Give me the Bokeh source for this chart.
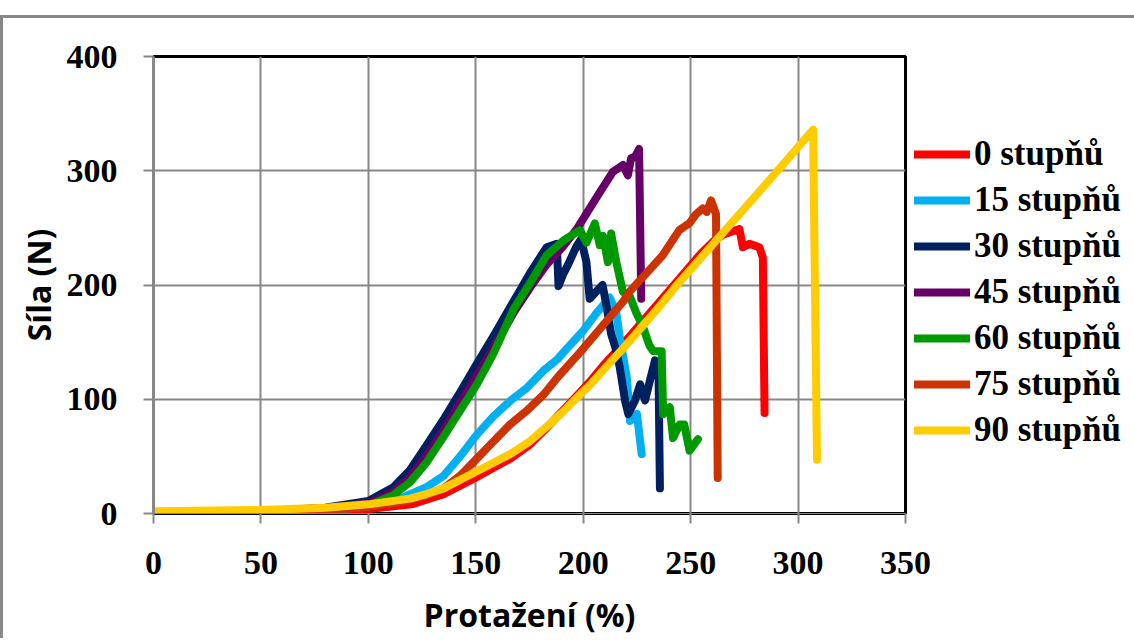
from bokeh.plotting import figure
from bokeh.models import Legend, LegendItem, FixedTicker
from bokeh.embed import file_html
from bokeh.resources import INLINE

labels = ["0 stupňů", "15 stupňů", "30 stupňů", "45 stupňů", "60 stupňů", "75 stupňů", "90 stupňů"]
colors = ["#FF0000", "#00B0F0", "#002060", "#660066", "#009900", "#CC3300", "#FFCC00"]

x_0 = [0, 50, 80, 100, 120, 135, 150.5, 166, 175, 183, 190, 198.5, 203.4, 210, 218.8, 234, 245, 255, 260.5, 265,
       268, 272.7, 274.3, 277.4, 282, 283.6, 284.4]
y_0 = [0.5, 1, 2, 4, 8, 17, 32, 48, 60, 75, 89, 106, 116, 131, 149, 182, 206, 228, 238, 244,
       246, 249, 233, 236, 233, 224, 88]

x_15 = [0, 50, 80, 100, 114.7, 127, 135, 142.7, 150.5, 158.2, 166, 173.8, 181.5, 188, 190.8, 200, 206, 212.3,
        215.4, 217, 220.3, 221.8, 225, 227.2]
y_15 = [0, 1, 3, 6, 13, 23, 33, 50, 69, 85, 98.5, 110, 125, 135, 141, 160, 175, 189,
        176, 154, 119, 81, 87, 52]

x_30 = [0, 50, 80, 100, 111.6, 119.4, 127.2, 134.9, 142.7, 150.5, 158.2, 167.7, 175.4, 183, 187.7, 188.5, 190.8,
        193, 196.9, 199, 201.5, 203, 206, 209, 210.8, 213, 215, 217, 219.5, 221, 224, 226.5, 228.8, 231, 233.4,
        235, 235.7]
y_30 = [0, 2, 5, 11, 23, 38, 60, 82, 106, 131, 155, 186, 211, 233, 236, 199, 210,
        218, 234, 240, 220, 188, 194, 200, 182, 157, 145, 128, 98.5, 87, 98.5, 113, 99, 116, 134,
        132, 22]

x_45 = [0, 50, 80, 100, 111.6, 119.4, 127.2, 134.9, 142.7, 150.5, 158.2, 167.7, 175.4, 183, 190.8, 197, 206,
        213.8, 218.5, 220.8, 222.3, 224, 226, 227]
y_45 = [0, 2, 4.5, 9, 19, 32, 51, 73, 97, 121, 145, 176, 198, 218, 234, 249, 276,
        299, 305, 296, 311, 312, 319, 188]

x_60 = [0, 50, 80, 100, 111.6, 119.4, 127.2, 134.9, 142.7, 150.5, 158.2, 167.7, 175.4, 183, 190.8, 198.5, 201.5,
        205.4, 207.7, 209.2, 211.5, 213, 215.4, 218.5, 221.5, 224.6, 227.7, 230.8, 232.6, 236.5, 237.2, 240.3,
        241.8, 244.9, 247, 249.5, 253.4]
y_60 = [0, 1.5, 3.5, 7, 16, 27.5, 45, 67, 90, 113, 140, 179, 202, 226, 239, 248, 237,
        254, 235, 243, 220, 245, 220, 194, 191, 176, 164, 147, 142, 142, 87, 93,
        66, 78, 78, 55, 65]

x_75 = [0, 50, 80, 100, 115, 127, 135, 142.7, 150.5, 158.2, 166, 173.8, 181.5, 188, 198.5, 218.8, 221.5, 237,
        244.7, 249.4, 252.5, 255.6, 257.5, 259.5, 261.8, 262.6]
y_75 = [0, 1, 3, 6, 10, 16, 22, 33, 48, 63, 78, 90, 104, 119, 141, 186, 194, 226,
        248, 254, 262, 267, 264, 274, 262, 31]

x_90 = [0, 20, 50, 80, 100, 119.4, 127, 135, 150.5, 166, 175, 183, 190, 198.5, 203.4, 210, 218.8, 234, 245, 260.5,
        276, 291.4, 299.2, 307, 308.8]
y_90 = [2, 2.5, 3, 5, 8, 13, 17, 22, 37, 52, 63, 76, 88, 104, 113, 127, 145, 178, 203, 236,
        269, 302, 319, 336, 47]

x_ticks = [0, 50, 100, 150, 200, 250, 300, 350]
y_ticks = [0, 100, 200, 300, 400]

series = [(x_0, y_0), (x_15, y_15), (x_30, y_30), (x_45, y_45), (x_60, y_60), (x_75, y_75), (x_90, y_90)]

p = figure(frame_width=752, frame_height=457, x_range=(0, 350), y_range=(0, 400),
           output_backend="svg", toolbar_location=None,
           min_border_left=150, min_border_right=214, min_border_top=38, min_border_bottom=110)
p.styles = {"border-left": "3px solid #878787", "border-top": "3px solid #878787", "margin-top": "15px"}
p.background_fill_color = "white"
p.border_fill_color = "white"
p.outline_line_color = "black"
p.outline_line_width = 3

grid_col = "#878787"
p.xgrid.grid_line_color = grid_col
p.ygrid.grid_line_color = grid_col
p.xgrid.grid_line_width = 2
p.ygrid.grid_line_width = 2
p.xaxis.ticker = FixedTicker(ticks=x_ticks)
p.yaxis.ticker = FixedTicker(ticks=y_ticks)
p.xgrid.ticker = FixedTicker(ticks=x_ticks)
p.ygrid.ticker = FixedTicker(ticks=y_ticks)

for ax in (p.xaxis[0], p.yaxis[0]):
    ax.major_tick_out = 10
    ax.major_tick_in = 0
    ax.minor_tick_out = 0
    ax.minor_tick_in = 0
    ax.major_tick_line_color = grid_col
    ax.major_tick_line_width = 2
    ax.axis_line_color = grid_col
    ax.major_label_text_font = "Liberation Serif"
    ax.major_label_text_font_style = "bold"
    ax.major_label_text_font_size = "34px"
    ax.major_label_text_color = "black"
    ax.axis_label_text_font = "Open Sans"
    ax.axis_label_text_font_style = "bold"
    ax.axis_label_text_font_size = "32px"
    ax.axis_label_text_color = "black"

p.xaxis.major_label_standoff = 28
p.yaxis.major_label_standoff = 26
p.yaxis.axis_line_width = 3
p.xaxis.axis_line_width = 1
p.xaxis.axis_label = "Protažení (%)"
p.yaxis.axis_label = "Síla (N)"
p.xaxis.axis_label_standoff = 16
p.yaxis.axis_label_standoff = 4

items = []
for (xs, ys), c, lab in zip(series, colors, labels):
    r = p.line(xs, ys, line_color=c, line_width=8, line_join="round", line_cap="round")
    items.append(LegendItem(label=lab, renderers=[r]))

legend = Legend(items=items, location=(9, 62))
legend.border_line_color = None
legend.background_fill_color = None
legend.background_fill_alpha = 0
legend.margin = 0
legend.padding = 0
legend.spacing = 4
legend.glyph_width = 56
legend.glyph_height = 42
legend.label_height = 42
legend.label_standoff = 4
legend.label_text_font = "Liberation Serif"
legend.label_text_font_style = "bold"
legend.label_text_font_size = "35px"
legend.label_text_color = "black"
legend.label_text_baseline = "middle"
p.add_layout(legend, "right")

open("out.html", "w").write(file_html(p, INLINE))
